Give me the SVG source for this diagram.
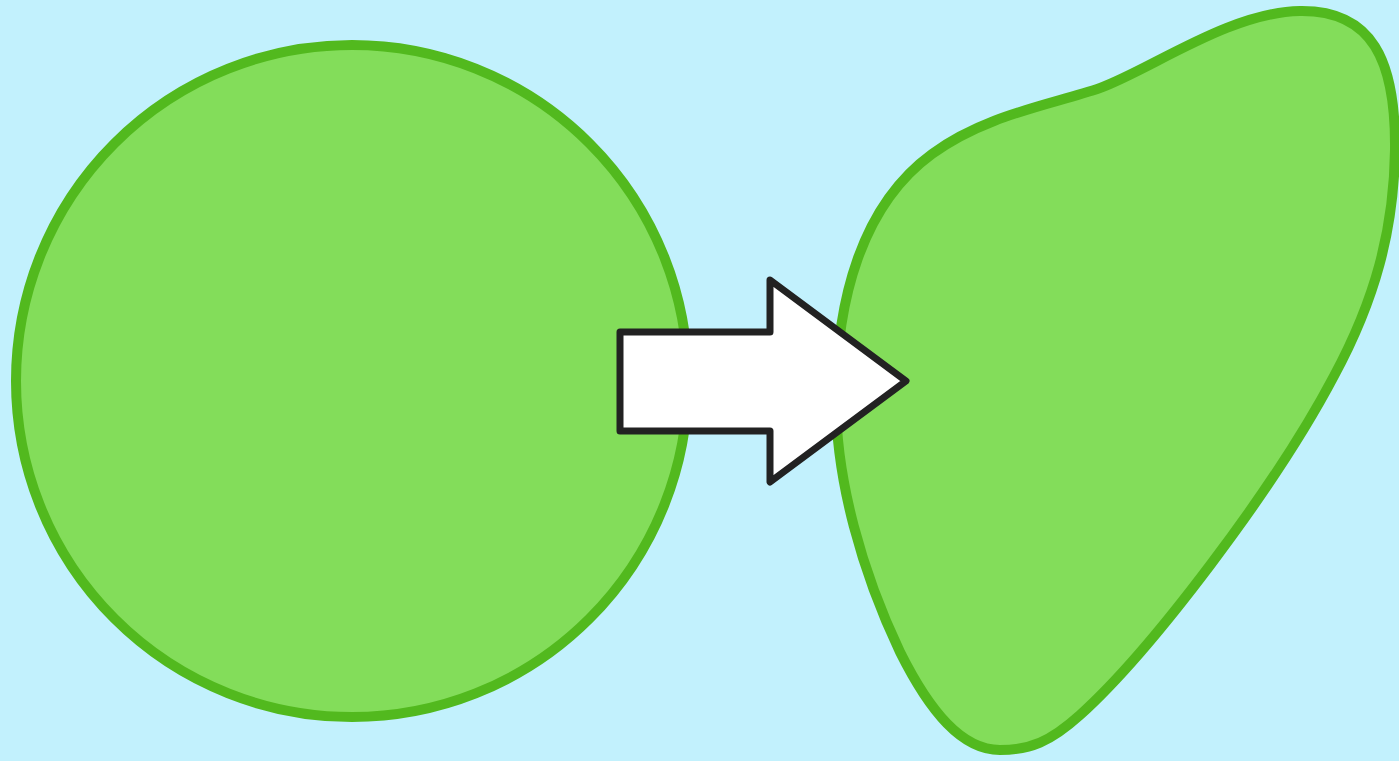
<svg xmlns="http://www.w3.org/2000/svg" width="1399" height="761" viewBox="0 0 1399 761">
<style>
.cell{fill:#83dd5a;stroke:#52b91e;stroke-width:10}
.arrow{fill:#ffffff;stroke:#222222;stroke-width:7;stroke-linejoin:round}
</style>
<rect width="1399" height="761" fill="#c2f1fd"/>
<g id="circle">
<circle class="cell" cx="352" cy="381" r="336"/>
</g>
<g id="blob">
<path class="cell" d="M 836 400 C 836 300, 862 205, 932 154 C 985 115, 1050 105, 1100 88 C 1150 70, 1230 12, 1300 11 C 1372 10, 1396 60, 1395 150 C 1394 230, 1375 300, 1334 376 C 1275 488, 1150 652, 1080 715 C 1050 742, 1030 750, 1000 750 C 962 750, 930 712, 900 652 C 862 572, 836 480, 836 400 Z"/>
</g>
<g id="connectors">
<path class="arrow" d="M 620 332 L 770 332 L 770 280 L 906 381 L 770 482 L 770 431 L 620 431 Z"/>
</g>
</svg>
